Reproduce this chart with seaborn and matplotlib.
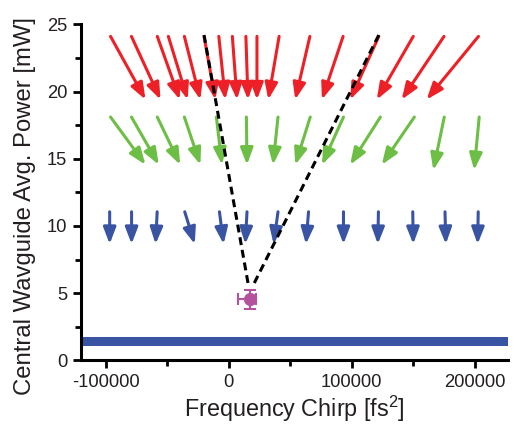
import numpy as np
import pandas as pd
import matplotlib
matplotlib.use("Agg")
import matplotlib.pyplot as plt
from matplotlib.ticker import MultipleLocator
import seaborn as sns

# Chirp transfer arrows: start chirp -> end chirp for each input power level
red_start = [-96000, -79000, -58000, -49000, -36000, -20000, -8000, 3000, 14000,
             23000, 41000, 66000, 93000, 122000, 150000, 175000, 203000]
red_end = [-67600, -55400, -39700, -33300, -23000, -10800, -2700, 6800, 15700,
           23000, 32200, 54100, 75800, 98800, 120400, 140600, 160900]
red_y_start = 24.1
red_y_end = [19.4] * len(red_start)

green_start = [-96000, -79000, -58000, -36000, -10000, 14400, 40100, 66300,
               93300, 123300, 150900, 175200, 203600]
green_end = [-67600, -56800, -39400, -23000, -5400, 14900, 36000, 54100,
             75800, 98700, 124400, 166300, 199500]
green_y_start = 18.1
green_y_end = [14.55] * 11 + [14.15, 14.15]

blue_start = [-96700, -78900, -58100, -35700, -7500, 14900, 40100, 64900,
              93300, 121700, 149600, 175800, 202800]
blue_end = [-96700, -78900, -59400, -27600, -4100, 13500, 36500, 62800,
            93300, 121200, 150000, 176500, 202300]
blue_y_start = 11.05
blue_y_end = [8.65] * len(blue_start)

# Background power band
band_low, band_high = 1.1, 1.75

# Measured central waveguide point with error bars
point_x, point_y = 17000, 4.55
point_xerr_low, point_xerr_high = 9500, 5000
point_yerr = 0.7

# Guide lines converging on the measured point
dash_left_x = [-20000, 16000]
dash_left_y = [24.2, 5.6]
dash_right_x = [122000, 20000]
dash_right_y = [24.2, 5.6]

RED = "#EE2027"
GREEN = "#6CBE45"
BLUE = "#3A54A4"
MAGENTA = "#B5529E"
TEXT = "#231F20"

sns.set_theme(style="ticks")
plt.rcParams["font.family"] = ["Liberation Sans", "DejaVu Sans"]
plt.rcParams["mathtext.fontset"] = "custom"
plt.rcParams["mathtext.rm"] = "Liberation Sans"
plt.rcParams["mathtext.it"] = "Liberation Sans:italic"
plt.rcParams["axes.unicode_minus"] = False

fig = plt.figure(figsize=(5.14, 4.25), dpi=100)
ax = fig.add_axes([81 / 514, 1 - 360.3 / 425, 427 / 514, 336 / 425])

ax.axhspan(band_low, band_high, color=BLUE, lw=0, zorder=1)


def draw_arrows(xs, xe, y0, y1, color):
    for a, b, ye in zip(xs, xe, y1):
        ax.annotate("", xy=(b, ye), xytext=(a, y0),
                    arrowprops=dict(arrowstyle="-|>,head_length=1.0,head_width=0.38",
                                    color=color, lw=2.2, shrinkA=0, shrinkB=0,
                                    mutation_scale=10),
                    zorder=2)


draw_arrows(red_start, red_end, red_y_start, red_y_end, RED)
draw_arrows(green_start, green_end, green_y_start, green_y_end, GREEN)
draw_arrows(blue_start, blue_end, blue_y_start, blue_y_end, BLUE)

dash_df = pd.DataFrame({
    "x": dash_left_x + dash_right_x,
    "y": dash_left_y + dash_right_y,
    "side": ["left"] * 2 + ["right"] * 2,
})
sns.lineplot(data=dash_df, x="x", y="y", units="side", estimator=None, sort=False,
             color="black", lw=2.2, ax=ax, zorder=4)
for ln in ax.lines:
    ln.set_linestyle((0, (2.6, 1.6)))

ax.errorbar([point_x], [point_y],
            xerr=[[point_xerr_low], [point_xerr_high]], yerr=[[point_yerr], [point_yerr]],
            fmt="none", ecolor=MAGENTA, elinewidth=1.5, capsize=4, capthick=1.5, zorder=5)
sns.scatterplot(x=[point_x], y=[point_y], color=MAGENTA, s=80, edgecolor=MAGENTA,
                linewidth=0.5, ax=ax, zorder=6)

ax.set_xlim(-120000, 227000)
ax.set_ylim(0, 25)
ax.xaxis.set_major_locator(MultipleLocator(100000))
ax.xaxis.set_minor_locator(MultipleLocator(50000))
ax.yaxis.set_major_locator(MultipleLocator(5))
ax.yaxis.set_minor_locator(MultipleLocator(2.5))
ax.ticklabel_format(axis="x", style="plain", useOffset=False)

sns.despine(ax=ax)
for side in ("left", "bottom"):
    ax.spines[side].set_linewidth(2.2)
    ax.spines[side].set_color("black")
ax.tick_params(which="major", direction="out", length=6, width=2, labelsize=13.2,
               colors="black", labelcolor=TEXT, pad=4)
ax.tick_params(which="minor", direction="out", length=4, width=2, colors="black")

ax.set_xlabel("Frequency Chirp [fs$^2$]", fontsize=16.8, color=TEXT, labelpad=2)
ax.set_ylabel("Central Wavguide Avg. Power [mW]", fontsize=17.2, color=TEXT)
ax.yaxis.set_label_coords(-0.105, 0.458)

fig.savefig("out.png", dpi=100)
